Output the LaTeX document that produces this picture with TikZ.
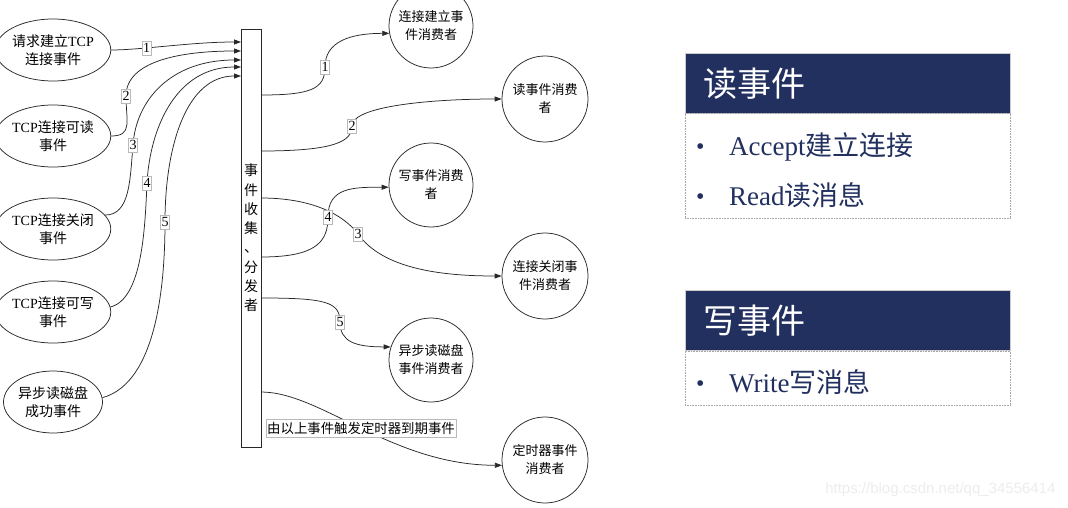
\documentclass[tikz,border=0pt]{standalone}
\usepackage{fontspec}
\setmainfont{Liberation Serif}
\newfontfamily\cjk{Noto Sans CJK SC}
\newfontfamily\wmfont{Liberation Sans}
\usetikzlibrary{shapes.geometric,arrows.meta}
\definecolor{navy}{RGB}{34,48,96}
\definecolor{ln}{RGB}{40,40,40}
\newcommand{\mybullet}{\makebox[33pt][l]{\raisebox{1pt}{\fontsize{24}{24}\selectfont •}}}
\begin{document}
\begin{tikzpicture}[x=1pt,y=-1pt,
  conn/.style={draw=ln, line width=0.75pt, -{Triangle[length=7pt,width=5pt]}},
  ev/.style={ellipse, draw=ln, line width=0.75pt, minimum width=90pt, minimum height=62pt, inner sep=0pt, align=center, font=\fontsize{14}{18}\selectfont},
  cons/.style={circle, draw=ln, line width=0.75pt, minimum size=84pt, inner sep=0pt, align=center, font=\fontsize{13}{18}\selectfont\cjk},
  lab/.style={draw=gray!55, fill=white, line width=0.4pt, inner xsep=1pt, inner ysep=2.5pt, font=\fontsize{14}{14}\selectfont},
  hdr/.style={draw=gray!40, fill=navy, text=white, line width=0.5pt, minimum height=60pt, text width=289pt, inner xsep=18pt, align=left, font=\fontsize{34}{36}\selectfont\cjk},
  bodybox/.style={draw=gray!70, densely dotted, line width=0.6pt, minimum width=325pt},
  item/.style={anchor=west, text=navy, inner sep=0pt, font=\fontsize{27}{30}\selectfont},
]
\clip (0,0) rectangle (1068,508);
\fill[white] (0,0) rectangle (1068,508);

% left event ellipses
\node[ev] (e1) at (53,50)  {{\cjk 请求建立}TCP\\{\cjk 连接事件}};
\node[ev] (e2) at (53,136) {TCP{\cjk 连接可读}\\{\cjk 事件}};
\node[ev] (e3) at (53,229) {TCP{\cjk 连接关闭}\\{\cjk 事件}};
\node[ev] (e4) at (53,312) {TCP{\cjk 连接可写}\\{\cjk 事件}};
\node[ev] (e5) at (53,402) {{\cjk 异步读磁盘}\\{\cjk 成功事件}};

% collector / dispatcher
\node[draw=ln, line width=0.75pt, minimum width=20pt, minimum height=418pt, inner sep=0pt, align=center,
      font=\fontsize{14}{19.3}\selectfont\cjk] (box) at (251,238) {事\\件\\收\\集\\、\\分\\发\\者};

% consumers
\node[cons] (cJoin)  at (431,26)  {连接建立事\\件消费者};
\node[cons, minimum size=86pt] (cRead)  at (545,99)  {读事件消费\\者};
\node[cons] (cWrite) at (431,185) {写事件消费\\者};
\node[cons, minimum size=86pt] (cClose) at (545,276) {连接关闭事\\件消费者};
\node[cons] (cDisk)  at (431,360) {异步读磁盘\\事件消费者};
\node[cons, minimum size=86pt] (cTimer) at (545,460) {定时器事件\\消费者};

% attachment points on the box
\coordinate (t1) at (241,42);
\coordinate (t2) at (241,51);
\coordinate (t3) at (241,60);
\coordinate (t4) at (241,67);
\coordinate (t5) at (241,76);
\coordinate (o1) at (261,95);
\coordinate (o2) at (261,151);
\coordinate (o3) at (261,198);
\coordinate (o4) at (261,257);
\coordinate (o5) at (261,298);
\coordinate (o6) at (261,392);

% label positions
\coordinate (m2) at (126,96);
\coordinate (m3) at (133,145);
\coordinate (m4) at (147,183);
\coordinate (m5) at (165,222);
\coordinate (n1) at (325,67);
\coordinate (n2) at (352,126);
\coordinate (n3) at (358,234);
\coordinate (n4) at (328,217);
\coordinate (n5) at (340,322);

% incoming events
\draw[conn] (e1.east) .. controls +(30,0) and +(-50,0) .. (t1) node[lab,pos=0.33]{1};
\draw[conn] (e2.east) .. controls +(22,0) and +(0,25) .. (m2) .. controls +(0,-35) and +(-60,0) .. (t2);
\draw[conn] (e3.15) .. controls +(25,0) and +(-3,35) .. (m3) .. controls +(3,-45) and +(-70,0) .. (t3);
\draw[conn] (e4.5) .. controls +(32,-8) and +(-2,45) .. (m4) .. controls +(3,-55) and +(-65,0) .. (t4);
\draw[conn] (e5.5) .. controls +(55,-15) and +(0,60) .. (m5) .. controls +(0,-75) and +(-55,0) .. (t5);
\node[lab] at (m2) {2};
\node[lab] at (m3) {3};
\node[lab] at (m4) {4};
\node[lab] at (m5) {5};

% dispatched events
\draw[conn] (o1) .. controls +(50,0) and +(0,22) .. (n1) .. controls +(0,-25) and +(-40,0) .. (cJoin.190);
\draw[conn] (o2) .. controls +(75,0) and +(0,15) .. (n2) .. controls +(0,-20) and +(-70,0) .. (cRead.west);
\draw[conn] (o3) .. controls +(50,0) and +(-15,-20) .. (n3) .. controls +(25,35) and +(-60,0) .. (cClose.west);
\draw[conn] (o4) .. controls +(55,0) and +(0,25) .. (n4) .. controls +(0,-30) and +(-35,0) .. (cWrite.183);
\draw[conn] (o5) .. controls +(65,0) and +(0,-20) .. (n5) .. controls +(0,20) and +(-35,0) .. (cDisk.162);
\draw[conn] (o6) .. controls +(60,0) and +(-110,0) .. (cTimer.187);
\node[lab] at (n1) {1};
\node[lab] at (n2) {2};
\node[lab] at (n3) {3};
\node[lab] at (n4) {4};
\node[lab] at (n5) {5};
\node[lab, font=\fontsize{13.4}{14}\selectfont\cjk, inner xsep=1.5pt] (tl) at (361,428) {由以上事件触发定时器到期事件};

% right panels
\node[hdr, anchor=north west] (h1) at (685,53) {读事件};
\node[bodybox, minimum height=104pt, anchor=north] (b1) at (h1.south) {};
\node[item] (i1) at (696,147) {\mybullet Accept{\cjk 建立连接}};
\node[item] (i2) at (696,195) {\mybullet Read{\cjk 读消息}};

\node[hdr, anchor=north west] (h2) at (685,290) {写事件};
\node[bodybox, minimum height=54pt, anchor=north] (b2) at (h2.south) {};
\node[item] (i3) at (696,382) {\mybullet Write{\cjk 写消息}};

% watermark
\node[text=gray!14, font=\fontsize{15}{15}\selectfont\wmfont, anchor=east] (wm) at (1059,490) {https://blog.csdn.net/qq\_34556414};
\end{tikzpicture}
\end{document}
